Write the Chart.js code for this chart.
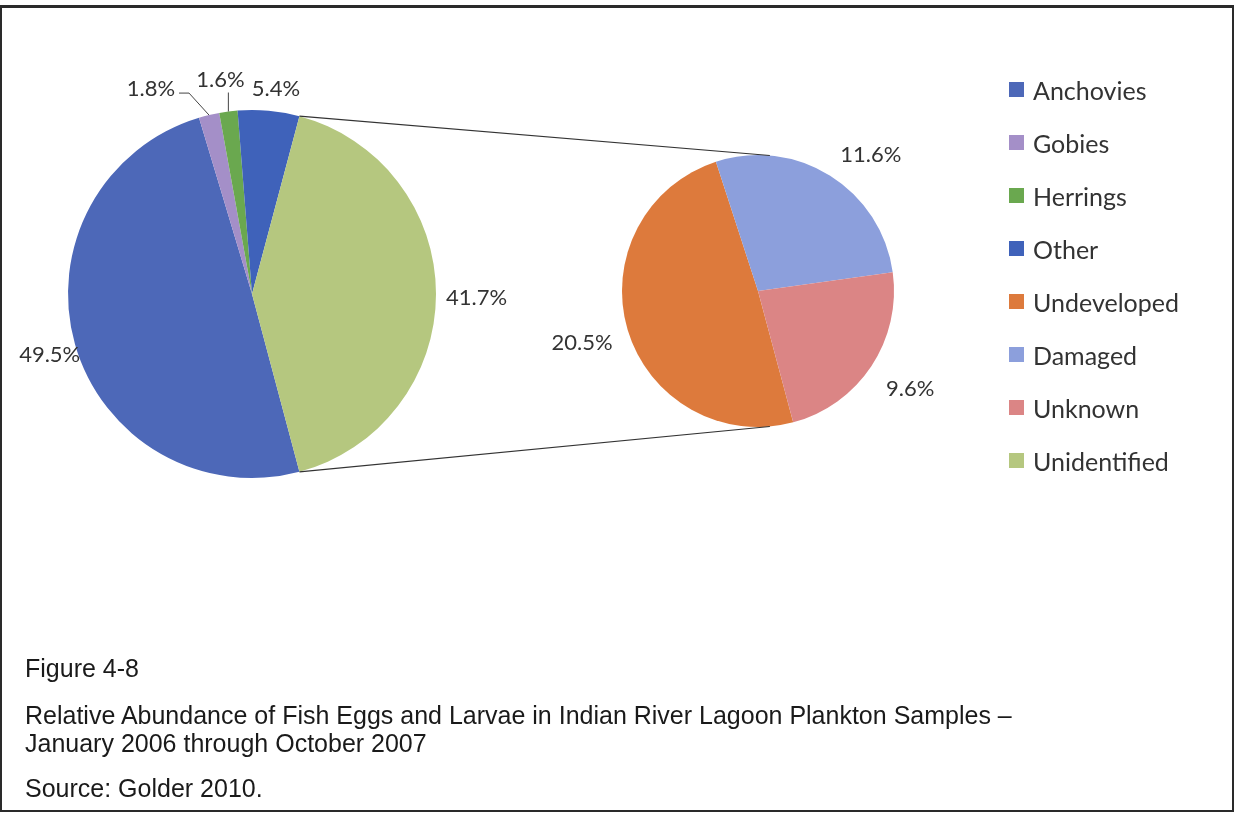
<!DOCTYPE html>
<html>
<head>
<meta charset="utf-8">
<script src="https://cdn.jsdelivr.net/npm/chart.js@4.4.0/dist/chart.umd.min.js"></script>
<style>
  body { margin: 0; background: #fff; }
  #page { position: relative; width: 1236px; height: 818px; overflow: hidden; }
  #frame { position: absolute; left: 0; top: 5px; width: 1230px; height: 802px; border: 2px solid #2a2a2a; border-top-width: 3px; }
  canvas { position: absolute; left: 0; top: 0; }
  #legend { position: absolute; left: 1009px; top: 63px; font-family: Lato, sans-serif; font-size: 25px; color: #333; }
  .item { height: 53px; display: flex; align-items: center; }
  .box { width: 15px; height: 15px; margin-right: 9px; }
  .cap { position: absolute; left: 25px; font-family: "Liberation Sans", Arial, sans-serif; font-size: 25px; line-height: 25px; color: #1a1a1a; white-space: nowrap; }
</style>
</head>
<body>
<div id="page">
  <div id="frame"></div>
  <canvas id="mainPie" width="1236" height="818"></canvas>
  <canvas id="splitPie" width="1236" height="818"></canvas>
  <div id="legend"></div>
  <div class="cap" style="top:656px">Figure 4-8</div>
  <div class="cap" style="top:703px">Relative Abundance of Fish Eggs and Larvae in Indian River Lagoon Plankton Samples –</div>
  <div class="cap" style="top:731px">January 2006 through October 2007</div>
  <div class="cap" style="top:776px">Source: Golder 2010.</div>
</div>
<script>
// percent of all samples
const mainLabels = ['Anchovies', 'Gobies', 'Herrings', 'Other'];
const mainValues = [49.5, 1.8, 1.6, 5.4];
const splitLabels = ['Undeveloped', 'Damaged', 'Unknown'];
const splitValues = [20.5, 11.6, 9.6];
const groupLabel = 'Unidentified';

const mainColors = ['#4d68b8', '#a48fc8', '#6aa84f', '#3f62ba'];
const splitColors = ['#dd7a3c', '#8c9fdc', '#db8585'];
const groupColor = '#b5c77f';

const groupValue = splitValues.reduce((a, b) => a + b, 0);
const grandTotal = mainValues.reduce((a, b) => a + b, 0) + groupValue;

// percentage labels outside each slice, with leader lines for tiny slices
const pctLabels = {
    id: 'pctLabels',
    afterDatasetsDraw(chart, args, opts) {
        const ctx = chart.ctx;
        const meta = chart.getDatasetMeta(0);
        const values = chart.data.datasets[0].data;
        ctx.save();
        ctx.font = opts.font;
        ctx.fillStyle = '#333';
        ctx.strokeStyle = '#444';
        ctx.lineWidth = 1;
        meta.data.forEach((arc, i) => {
            const text = (values[i] / grandTotal * 100).toFixed(1) + '%';
            const mid = (arc.startAngle + arc.endAngle) / 2;
            const cos = Math.cos(mid), sin = Math.sin(mid);
            const leader = opts.leaders[i];
            if (leader) {
                let x = arc.x + cos * arc.outerRadius, y = arc.y + sin * arc.outerRadius;
                ctx.beginPath();
                ctx.moveTo(x, y);
                leader.path.forEach(([dx, dy]) => { x += dx; y += dy; ctx.lineTo(x, y); });
                ctx.stroke();
                ctx.textAlign = leader.align;
                ctx.textBaseline = 'middle';
                ctx.fillText(text, x + leader.text[0], y + leader.text[1]);
                return;
            }
            const w = ctx.measureText(text).width;
            const d = arc.outerRadius + opts.gap + Math.abs(cos) * w / 2 + Math.abs(sin) * opts.textHeight / 2;
            const nudge = opts.nudge[i] || [0, 0];
            ctx.textAlign = 'center';
            ctx.textBaseline = 'middle';
            ctx.fillText(text, arc.x + cos * d + nudge[0], arc.y + sin * d + nudge[1]);
        });
        ctx.restore();
    }
};

function pieOptions(padding, rotation, labelOpts) {
    return {
        responsive: false,
        animation: false,
        events: [],
        rotation: rotation,
        layout: { padding: padding },
        plugins: {
            legend: { display: false },
            tooltip: { enabled: false },
            pctLabels: labelOpts
        }
    };
}

// group slice centred on the right side, as Excel does for pie of pie
const mainRotation = 90 + 180 * groupValue / grandTotal;

const mainChart = new Chart(document.getElementById('mainPie'), {
    type: 'pie',
    data: {
        labels: mainLabels.concat([groupLabel]),
        datasets: [{
            data: mainValues.concat([groupValue]),
            backgroundColor: mainColors.concat([groupColor]),
            borderWidth: 0,
            hoverOffset: 0
        }]
    },
    options: pieOptions({ left: 68, right: 800, top: 110, bottom: 340 }, mainRotation, {
        font: '22px Lato',
        gap: 2,
        textHeight: 16,
        nudge: { 0: [7, 2], 3: [6, -10], 4: [8, 4] },
        leaders: {
            1: { path: [[-20, -22], [-10, 0]], align: 'right', text: [-4, -4] },
            2: { path: [[0, -19]], align: 'center', text: [-8, -13] }
        }
    }),
    plugins: [pctLabels]
});

// lines joining the group slice to the secondary pie
const connectors = {
    id: 'connectors',
    afterDatasetsDraw(chart) {
        const big = mainChart.getDatasetMeta(0).data[mainValues.length];
        const small = chart.getDatasetMeta(0).data[0];
        const r = small.outerRadius;
        const tilt = 5 * Math.PI / 180;
        const ctx = chart.ctx;
        ctx.save();
        ctx.strokeStyle = '#333';
        ctx.lineWidth = 1.2;
        ctx.beginPath();
        ctx.moveTo(big.x + big.outerRadius * Math.cos(big.startAngle), big.y + big.outerRadius * Math.sin(big.startAngle));
        ctx.lineTo(small.x + r * Math.cos(-Math.PI / 2 + tilt), small.y + r * Math.sin(-Math.PI / 2 + tilt));
        ctx.moveTo(big.x + big.outerRadius * Math.cos(big.endAngle), big.y + big.outerRadius * Math.sin(big.endAngle));
        ctx.lineTo(small.x + r * Math.cos(Math.PI / 2 - tilt), small.y + r * Math.sin(Math.PI / 2 - tilt));
        ctx.stroke();
        ctx.restore();
    }
};

const splitChart = new Chart(document.getElementById('splitPie'), {
    type: 'pie',
    data: {
        labels: splitLabels,
        datasets: [{
            data: splitValues,
            backgroundColor: splitColors,
            borderWidth: 0,
            hoverOffset: 0
        }]
    },
    options: pieOptions({ left: 622, right: 342, top: 155, bottom: 391 }, 165, {
        font: '22px Lato',
        gap: 16,
        textHeight: 16,
        nudge: { 1: [20, 12], 2: [5, 0] },
        leaders: {}
    }),
    plugins: [pctLabels, connectors]
});

// legend for both pies
const legend = document.getElementById('legend');
mainLabels.concat(splitLabels, [groupLabel]).forEach((name, i) => {
    const color = mainColors.concat(splitColors, [groupColor])[i];
    const item = document.createElement('div');
    item.className = 'item';
    item.innerHTML = '<div class="box" style="background:' + color + '"></div><span>' + name + '</span>';
    legend.appendChild(item);
});
</script>
</body>
</html>
